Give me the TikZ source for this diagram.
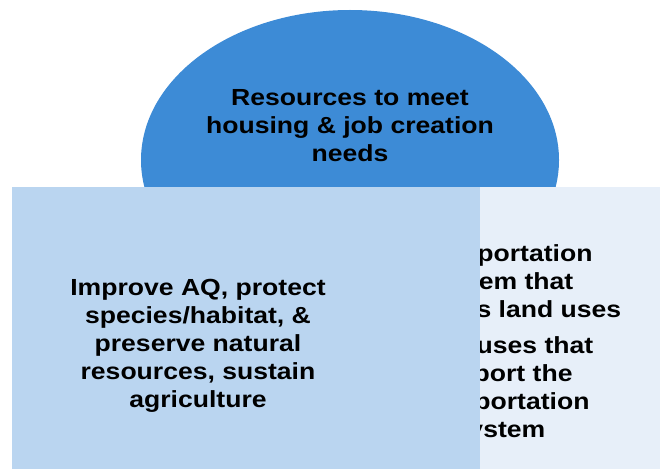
\documentclass[tikz,border=0pt]{standalone}
\usepackage{fontspec}
\newfontfamily\boxfont{Liberation Sans}[FakeStretch=1.14]
\usetikzlibrary{positioning}

\definecolor{ovalblue}{RGB}{61,139,214}
\definecolor{paleblue}{RGB}{186,213,240}
\definecolor{mistblue}{RGB}{231,239,249}

\tikzset{
  boxtext/.style={align=center,inner sep=0pt,
    font=\boxfont\bfseries\fontsize{23.3}{28}\selectfont}
}

\begin{document}
\begin{tikzpicture}[x=1pt,y=1pt]
 \useasboundingbox (0,0) rectangle (660,469);
 % oval on top
 \fill[ovalblue] (350,309) ellipse [x radius=209, y radius=150];
 \node[boxtext] (needs) at (350,343) {Resources to meet\\housing \& job creation\\needs};
 % box at the back, right
 \fill[mistblue] (380,0) rectangle (660,282);
 \node[boxtext] (transport) at (499.5,125.5) {Transportation\\system that\\supports land uses\\[8pt]Land uses that\\support the\\transportation\\system};
 % box in front, left
 \fill[paleblue] (12,0) rectangle (480,282);
 \node[boxtext] (environment) at (198,123) {Improve AQ, protect\\species/habitat, \&\\preserve natural\\resources, sustain\\agriculture};
\end{tikzpicture}
\end{document}
